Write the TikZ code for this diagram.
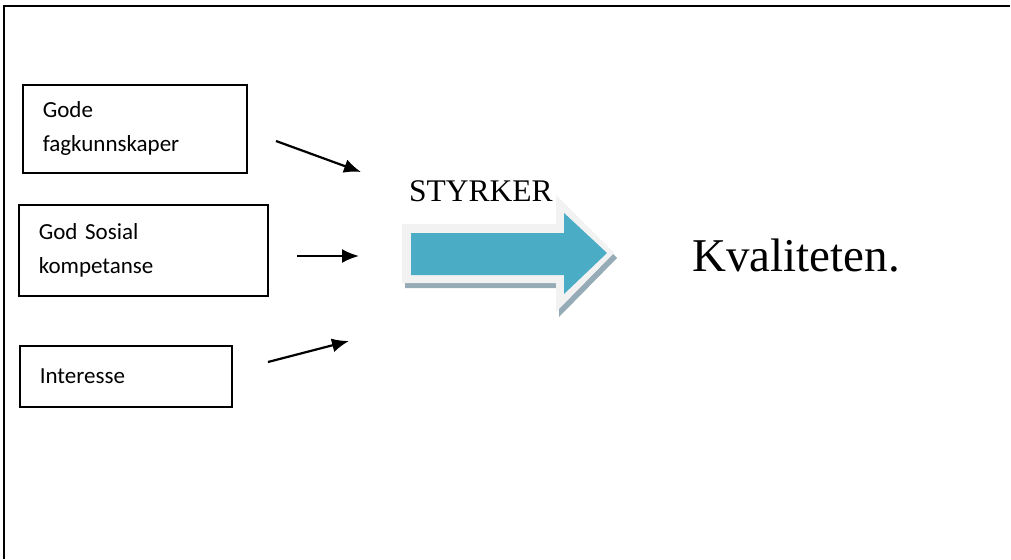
\documentclass[tikz,border=0pt]{standalone}
\usepackage{fontspec}
\setmainfont{Liberation Serif}
\newfontfamily\boxfont{Carlito}
\usetikzlibrary{arrows.meta,positioning}
\definecolor{arrowblue}{HTML}{4BACC6}
\definecolor{arrowrim}{HTML}{F2F2F2}
\definecolor{arrowshade}{HTML}{95ABB5}
\tikzset{skill box/.style={rectangle,draw,line width=1.6pt,anchor=north west,inner xsep=20pt,inner ysep=0pt,align=left,font=\boxfont\fontsize{23}{34}\selectfont},
         push/.style={line width=2.2pt,-{Latex[length=17pt,width=14pt]}},
         edge label/.style={inner sep=0pt,anchor=base west}
}

\begin{document}
\begin{tikzpicture}[x=1pt,y=-1pt]
\useasboundingbox (0,0) rectangle (1011,559);
% frame: only top and left edge show
\draw[line width=2.4pt] (4,559) -- (4,6) -- (1010,6);

\node[skill box,text width=184pt,minimum height=88pt] (fag) at (22,84) {Gode\\fagkunnskaper};
\node[skill box,text width=209pt,minimum height=91pt] (sos) at (18,204) {God Sosial\\kompetanse};
\node[skill box,text width=172pt,minimum height=61pt] (int) at (19,345) {Interesse};

\coordinate (fag out) at (276,141);
\coordinate (fag in) at (361,172);
\coordinate (sos out) at (297,256);
\coordinate (sos in) at (359,256);
\coordinate (int out) at (268,362);
\coordinate (int in) at (349,341);
\draw[push] (fag out) -- (fag in);
\draw[push] (sos out) -- (sos in);
\draw[push] (int out) -- (int in);

% block arrow: shadow, light rim, blue body
\fill[arrowshade,shift={(3,5)}] (402,224) -- (556,224) -- (556,195) -- (614,253) -- (556,312) -- (556,283) -- (402,283) -- cycle;
\fill[arrowrim] (402,224) -- (556,224) -- (556,195) -- (614,253) -- (556,312) -- (556,283) -- (402,283) -- cycle;
\fill[arrowblue] (411,233) -- (564,233) -- (564,213) -- (607,253) -- (564,294) -- (564,275) -- (411,275) -- cycle;

\node[edge label,font=\fontsize{31.5}{36}\selectfont] (styrker) at (409,201) {STYRKER};
\node[edge label,font=\fontsize{47}{54}\selectfont] (kval) at (692,271) {Kvaliteten.};
\end{tikzpicture}
\end{document}
